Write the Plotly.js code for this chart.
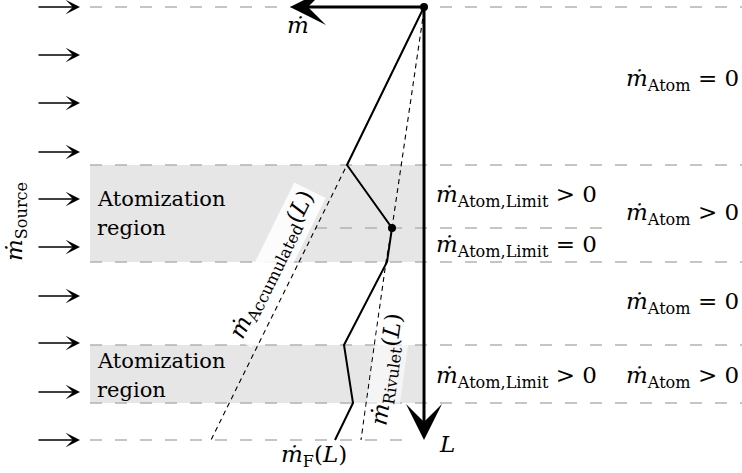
<!DOCTYPE html>
<html>
<head>
<meta charset="utf-8">
<script src="https://cdn.plot.ly/plotly-3.0.1.min.js"></script>
<style>html,body{margin:0;padding:0;background:#fff;}#chart{width:742px;height:473px;}</style>
</head>
<body>
<div id="chart"></div>
<script>
// Schematic values (drawing units: horizontal = mass flow axis, vertical = length L, downward)
const boundaryL = [7, 165, 228, 262, 345, 403, 440];
const boundaryStart = [90, 90, 315, 90, 90, 90, 90];
const boundaryEnd = [742, 742, 612, 742, 742, 742, 412];
const regionTop = [165, 345];
const regionBottom = [262, 403];
const regionLeft = 90;
const regionRight = 422;
const sourceArrowL = [7, 55, 103, 152, 199, 247, 296, 343, 392, 440];
const sourceArrowFrom = 37;
const sourceArrowTo = 80;
const flowL = [7, 165, 228, 262, 345, 403, 440];
const flowM = [424, 347, 392, 387, 344, 353, 335];
const accumL = [7, 165, 440];
const accumM = [424, 347, 211];
const rivuletL = [10, 228, 262, 440];
const rivuletM = [424, 392, 386, 361];
const dotL = [7, 228];
const dotM = [424, 392];
const originM = 424, originL = 7, mdotTipM = 290, lTipL = 440;

const FONT = 'DejaVu Serif';
const md = '<i>ṁ</i>';

const traces = [
  {x: accumM, y: accumL, mode: 'lines', line: {color: '#000', width: 1.1, dash: '5px,4px'}, hoverinfo: 'skip'},
  {x: rivuletM, y: rivuletL, mode: 'lines', line: {color: '#000', width: 1.1, dash: '5px,4px'}, hoverinfo: 'skip'},
  {x: flowM, y: flowL, mode: 'lines', line: {color: '#000', width: 2}, hoverinfo: 'skip'},
  {x: dotM, y: dotL, mode: 'markers', marker: {color: '#000', size: 8}, hoverinfo: 'skip'}
];

const shapes = [];
regionTop.forEach((t, i) => {
  shapes.push({type: 'rect', layer: 'below', x0: regionLeft, x1: regionRight, y0: t, y1: regionBottom[i],
    fillcolor: '#e6e6e6', line: {width: 0}});
});
boundaryL.forEach((l, i) => {
  shapes.push({type: 'line', layer: 'below', x0: boundaryStart[i], x1: boundaryEnd[i], y0: l, y1: l,
    line: {color: '#b3b3b3', width: 1.4, dash: '12px,13px'}});
});

const ann = [];
function arrow(x0, y0, x1, y1, w, s) {
  ann.push({x: x1, y: y1, ax: x0, ay: y0, axref: 'x', ayref: 'y', xref: 'x', yref: 'y',
    text: '', showarrow: true, arrowhead: 3, arrowsize: s, arrowwidth: w, arrowcolor: '#000', standoff: 0});
}
sourceArrowL.forEach(l => arrow(sourceArrowFrom, l, sourceArrowTo, l, 1.5, 1.6));
arrow(originM, originL, originM, lTipL, 3, 2.0);
arrow(originM, originL, mdotTipM, originL, 3, 2.0);

function label(x, y, text, opts) {
  ann.push(Object.assign({x: x, y: y, xref: 'x', yref: 'y', text: text, showarrow: false,
    font: {family: FONT, size: 23, color: '#000'}, xanchor: 'left', yanchor: 'middle'}, opts || {}));
}
const txt = {family: FONT, size: 21, color: '#000'};
label(298, 25, md, {xanchor: 'center'});
label(437, 444, '<i>L</i>', {});
label(95, 199, 'Atomization', {font: txt});
label(95, 228, 'region', {font: txt});
label(95, 361, 'Atomization', {font: txt});
label(95, 390, 'region', {font: txt});
label(741, 80, md + '<sub>Atom</sub> = 0', {xanchor: 'right'});
label(741, 214, md + '<sub>Atom</sub> &gt; 0', {xanchor: 'right'});
label(741, 303, md + '<sub>Atom</sub> = 0', {xanchor: 'right'});
label(741, 377, md + '<sub>Atom</sub> &gt; 0', {xanchor: 'right'});
label(434, 196, md + '<sub>Atom,Limit</sub> &gt; 0', {});
label(434, 246, md + '<sub>Atom,Limit</sub> = 0', {});
label(434, 377, md + '<sub>Atom,Limit</sub> &gt; 0', {});
label(314, 456, md + '<sub>F</sub>(<i>L</i>)', {xanchor: 'center'});
label(16, 222, md + '<sub>Source</sub>', {xanchor: 'center', textangle: -90});
label(273, 265, md + '<sub>Accumulated</sub>(<i>L</i>)', {xanchor: 'center', textangle: -63.7,
  bgcolor: 'rgba(255,255,255,0.85)', borderpad: 2});
label(388, 370, md + '<sub>Rivulet</sub>(<i>L</i>)', {xanchor: 'center', textangle: -82,
  bgcolor: 'rgba(255,255,255,0.6)', borderpad: 1});

const layout = {
  width: 742, height: 473,
  margin: {l: 0, r: 0, t: 0, b: 0},
  paper_bgcolor: '#fff', plot_bgcolor: '#fff',
  showlegend: false,
  xaxis: {range: [0, 742], visible: false, fixedrange: true},
  yaxis: {range: [473, 0], visible: false, fixedrange: true},
  shapes: shapes,
  annotations: ann
};
Plotly.newPlot('chart', traces, layout, {staticPlot: true, displayModeBar: false}).then(gd => {
  gd.querySelectorAll('text.annotation-text').forEach(t => {
    const fs = t.style.fontSize;
    if (fs) t.setAttribute('font-size', parseFloat(fs));
  });
});
</script>
</body>
</html>
